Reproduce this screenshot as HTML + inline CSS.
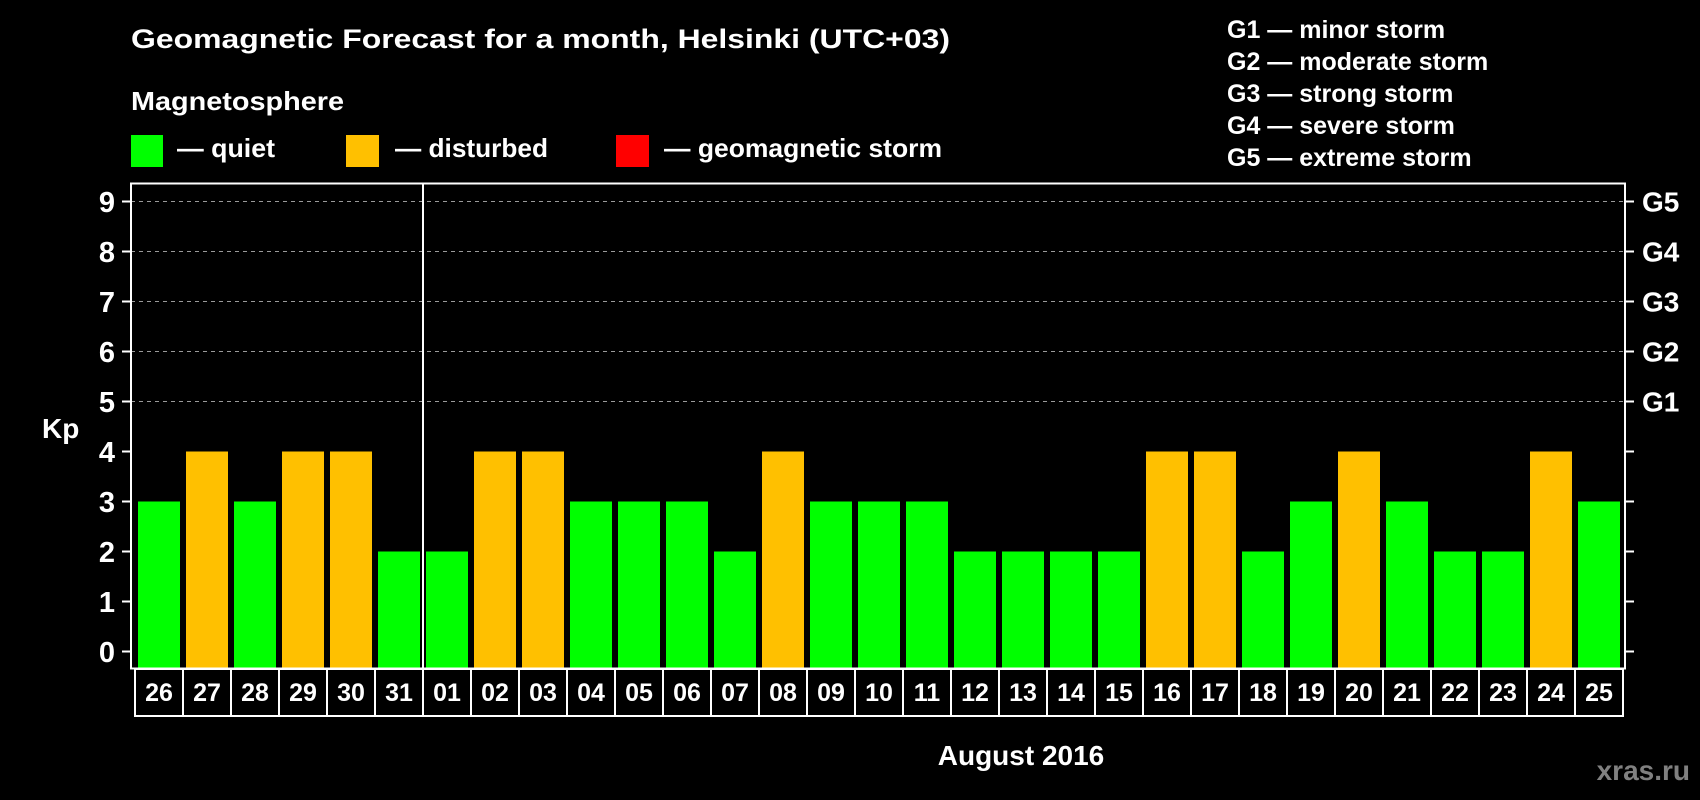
<!DOCTYPE html>
<html><head><meta charset="utf-8"><style>
html,body{margin:0;padding:0;background:#000;}
svg{display:block;}
text{font-family:"Liberation Sans",Arial,sans-serif;font-weight:bold;fill:#fff;}
</style></head><body>
<svg id="chart" width="1700" height="800" viewBox="0 0 1700 800" xmlns="http://www.w3.org/2000/svg">
<rect x="0" y="0" width="1700" height="800" fill="#000"/>
<text x="131" y="48" font-size="27" textLength="819" lengthAdjust="spacingAndGlyphs">Geomagnetic Forecast for a month, Helsinki (UTC+03)</text>
<text x="131" y="110" font-size="26" textLength="213" lengthAdjust="spacingAndGlyphs">Magnetosphere</text>
<rect x="131" y="135" width="32" height="32" fill="#00ff00"/>
<text x="177" y="157" font-size="26" textLength="98" lengthAdjust="spacingAndGlyphs">— quiet</text>
<rect x="346" y="135" width="33" height="32" fill="#ffc000"/>
<text x="395" y="157" font-size="26" textLength="153" lengthAdjust="spacingAndGlyphs">— disturbed</text>
<rect x="616" y="135" width="33" height="32" fill="#ff0000"/>
<text x="664" y="157" font-size="26" textLength="278" lengthAdjust="spacingAndGlyphs">— geomagnetic storm</text>
<g font-size="25">
<text x="1227" y="38">G1 — minor storm</text>
<text x="1227" y="70">G2 — moderate storm</text>
<text x="1227" y="102">G3 — strong storm</text>
<text x="1227" y="134">G4 — severe storm</text>
<text x="1227" y="166">G5 — extreme storm</text>
</g>
<text x="42" y="438" font-size="28">Kp</text>
<text x="1021" y="765" font-size="28" text-anchor="middle">August 2016</text>
<text x="1690" y="780" font-size="28" text-anchor="end" style="fill:#808080">xras.ru</text>
<g id="grid"></g><g id="bars"></g><g id="axes"></g>
</svg>
<script>
const days = ["26","27","28","29","30","31","01","02","03","04","05","06","07","08","09","10","11","12","13","14","15","16","17","18","19","20","21","22","23","24","25"];
const kp = [3,4,3,4,4,2,2,4,4,3,3,3,2,4,3,3,3,2,2,2,2,4,4,2,3,4,3,2,2,4,3];
const yTicks = [0,1,2,3,4,5,6,7,8,9];
const gLabels = ["G1","G2","G3","G4","G5"];
const gLevels = [5,6,7,8,9];
const monthStartIndex = 6;

const NS = "http://www.w3.org/2000/svg";
const plotL = 131, plotR = 1625, plotT = 183.5, plotB = 668.5;
const slot0 = 135, slotW = 48;
function yScale(v){ return 651.5 - v*50; }
function xScale(i){ return slot0 + i*slotW; }
function mk(tag, attrs, parent){ const e=document.createElementNS(NS,tag); for(const k in attrs) e.setAttribute(k,attrs[k]); parent.appendChild(e); return e; }
const grid=document.getElementById('grid'), bars=document.getElementById('bars'), axes=document.getElementById('axes');

gLevels.forEach((lv,j)=>{
  const y=yScale(lv);
  const l=mk('line',{x1:plotL,x2:plotR,y1:y,y2:y,stroke:'#9a9a9a','stroke-width':1,'stroke-dasharray':'4,4'},grid);
  
  
  const t=mk('text',{x:1642,y:y+10,'font-size':28},axes);
  t.textContent=gLabels[j];
  
  
});
yTicks.forEach(v=>{
  const y=yScale(v);
  const tl=mk('line',{x1:122,x2:plotL,y1:y,y2:y,stroke:'#fff','stroke-width':2},axes);
  
  
  const tr=mk('line',{x1:plotR,x2:1634,y1:y,y2:y,stroke:'#fff','stroke-width':2},axes);
  
  
  const t=mk('text',{x:115,y:y+10.5,'font-size':29,'text-anchor':'end'},axes);
  t.textContent=String(v);
  
  
});
days.forEach((d,i)=>{
  const v=kp[i];
  const col = v>=5 ? '#ff0000' : (v>=4 ? '#ffc000' : '#00ff00');
  const r=mk('rect',{x:xScale(i)+3,y:yScale(v),width:42,height:plotB-yScale(v)-1,fill:col},bars);
  
  
  const b=mk('rect',{x:xScale(i),y:669,width:slotW,height:47,fill:'none',stroke:'#fff','stroke-width':2},axes);
  
  
  const t=mk('text',{x:xScale(i)+slotW/2,y:701,'font-size':25,'text-anchor':'middle'},axes);
  t.textContent=d;
  
  
});
const frame=mk('rect',{x:plotL,y:plotT,width:plotR-plotL,height:plotB-plotT,fill:'none',stroke:'#fff','stroke-width':2},axes);


const dv=mk('line',{x1:xScale(monthStartIndex),x2:xScale(monthStartIndex),y1:plotT,y2:plotB,stroke:'#fff','stroke-width':2},axes);


</script>
</body></html>
